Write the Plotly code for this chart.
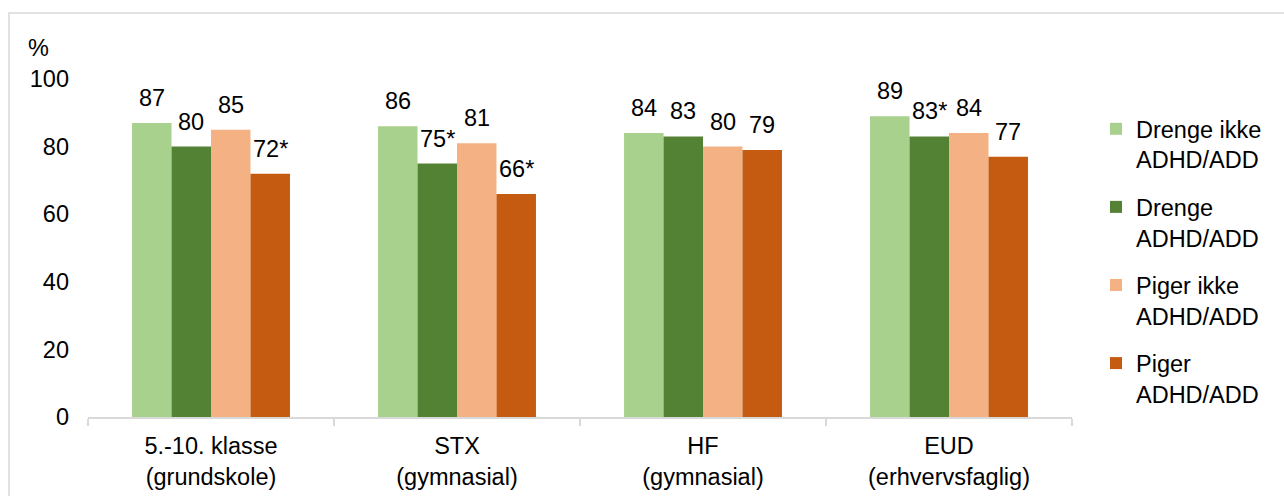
import plotly.graph_objects as go

# Categories (school type) and shares (%) per group
categories = ["5.-10. klasse<br>(grundskole)", "STX<br>(gymnasial)", "HF<br>(gymnasial)", "EUD<br>(erhvervsfaglig)"]
series_names = ["Drenge ikke<br>ADHD/ADD", "Drenge<br>ADHD/ADD", "Piger ikke<br>ADHD/ADD", "Piger<br>ADHD/ADD"]
drenge_ikke = [87, 86, 84, 89]
drenge_adhd = [80, 75, 83, 83]
piger_ikke = [85, 81, 80, 84]
piger_adhd = [72, 66, 79, 77]
# significance markers (*) per series
sig_drenge_ikke = [False, False, False, False]
sig_drenge_adhd = [False, True, False, True]
sig_piger_ikke = [False, False, False, False]
sig_piger_adhd = [True, True, False, False]

colors = ["#A9D18E", "#548235", "#F4B183", "#C55A11"]
values = [drenge_ikke, drenge_adhd, piger_ikke, piger_adhd]
sigs = [sig_drenge_ikke, sig_drenge_adhd, sig_piger_ikke, sig_piger_adhd]

FONT = "Liberation Sans, Arial, sans-serif"
FS = 23.5
W, H = 1284, 496
ML, MR, MT, MB = 88, 212, 79, 79
BARGAP = 0.358

fig = go.Figure()
for i, (name, vals, col) in enumerate(zip(series_names, values, colors)):
    fig.add_trace(go.Bar(
        x=categories, y=vals, name=name,
        marker=dict(color=col, line=dict(width=0)),
        legendgroup=f"g{i}",
    ))

# value labels above each bar
plot_w = W - ML - MR
plot_h = H - MT - MB
cat_w = plot_w / len(categories)
bar_w = cat_w * (1 - BARGAP) / len(values)
annotations = []
for i, (vals, flags) in enumerate(zip(values, sigs)):
    xshift = (i - (len(values) - 1) / 2) * bar_w
    for cat, v, f in zip(categories, vals, flags):
        annotations.append(dict(
            x=cat, y=v, xref="x", yref="y", text=f"{v}{'*' if f else ''}",
            showarrow=False, xshift=xshift, yshift=25, yanchor="middle",
            font=dict(family=FONT, size=FS, color="black"),
        ))

annotations.append(dict(
    x=(38 - ML) / plot_w, y=(H - MB - 48) / plot_h, xref="paper", yref="paper",
    text="%", showarrow=False, xanchor="center", yanchor="middle",
    font=dict(family=FONT, size=FS, color="black"),
))

fig.update_layout(
    width=W, height=H,
    margin=dict(l=ML, r=MR, t=MT, b=MB, autoexpand=False),
    paper_bgcolor="white", plot_bgcolor="white",
    barmode="group", bargap=BARGAP, bargroupgap=0,
    font=dict(family=FONT, size=FS, color="black"),
    showlegend=True,
    legend=dict(
        x=(1096 - ML) / plot_w, xanchor="left",
        y=1.0 - (107 - MT) / plot_h, yanchor="top",
        valign="top", tracegroupgap=14,
        font=dict(family=FONT, size=FS, color="black"),
        bgcolor="rgba(0,0,0,0)",
    ),
    annotations=annotations,
    shapes=[dict(
        type="rect", xref="paper", yref="paper",
        x0=(9 - ML) / plot_w, x1=(W + 5 - ML) / plot_w,
        y0=-(MB + 10) / plot_h, y1=1 + (MT - 13) / plot_h,
        line=dict(color="#D9D9D9", width=1.5), fillcolor="rgba(0,0,0,0)",
    )],
)
fig.update_xaxes(
    automargin=False,
    showline=True, linecolor="#D9D9D9", linewidth=1.5,
    ticks="outside", tickson="boundaries", ticklen=7, tickcolor="#D9D9D9", tickwidth=1.5,
    ticklabelstandoff=7,
    showgrid=False, tickfont=dict(family=FONT, size=FS, color="black"),
)
fig.update_yaxes(
    automargin=False,
    range=[0, 100], tickvals=[0, 20, 40, 60, 80, 100],
    showline=False, showgrid=False, zeroline=False, ticks="",
    ticklabelstandoff=18,
    tickfont=dict(family=FONT, size=FS, color="black"),
)

fig.write_html("out.html")
